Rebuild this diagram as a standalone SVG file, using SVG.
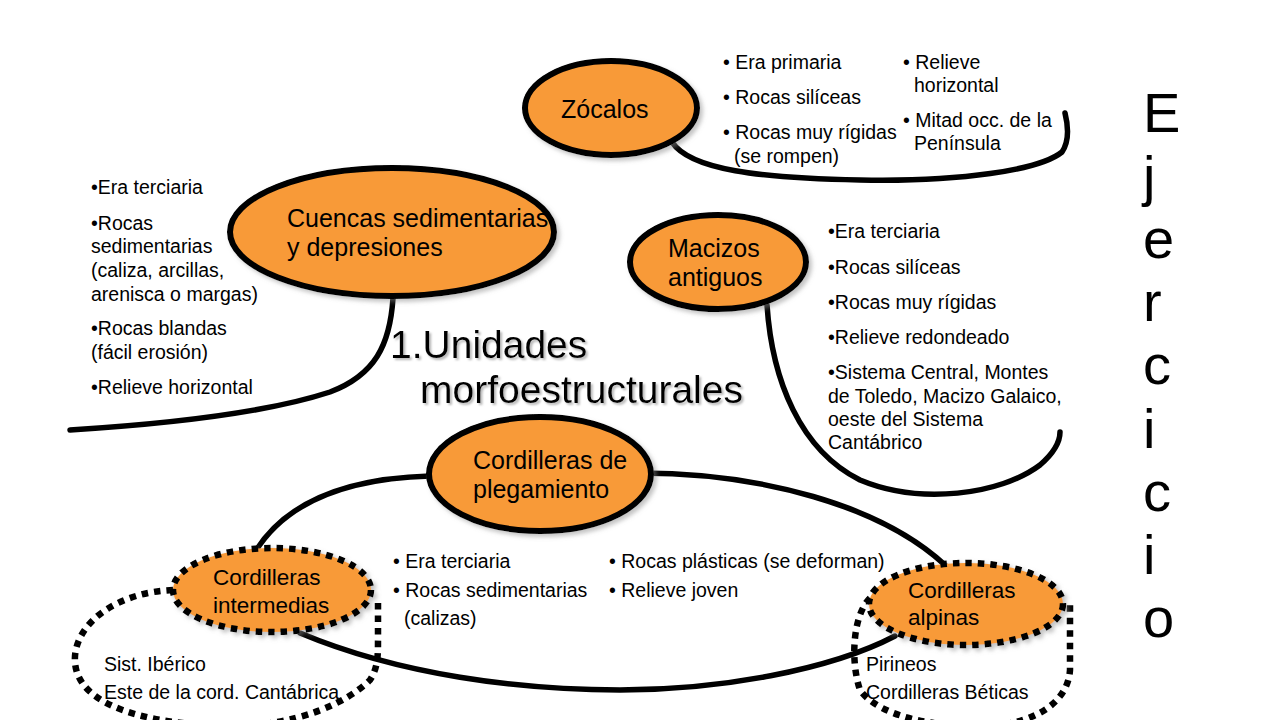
<svg xmlns="http://www.w3.org/2000/svg" width="1280" height="720" viewBox="0 0 1280 720">
<defs>
<filter id="sh" x="-10%" y="-10%" width="125%" height="130%">
<feDropShadow dx="3" dy="3" stdDeviation="2" flood-color="#888" flood-opacity="0.5"/>
</filter>
<filter id="tsh" x="-5%" y="-10%" width="110%" height="130%">
<feDropShadow dx="2" dy="2" stdDeviation="1" flood-color="#999" flood-opacity="0.7"/>
</filter>
</defs>
<style>
text{font-family:"Liberation Sans",Arial,sans-serif;fill:#000}
.node{fill:#F89A38;stroke:#000;stroke-width:6}
.dot{fill:#F89A38;stroke:#000;stroke-width:6.5;stroke-dasharray:6.5 6}
.con{fill:none;stroke:#000;stroke-width:5.5;stroke-linecap:round}
.dloop{fill:none;stroke:#000;stroke-width:6.5;stroke-dasharray:6.5 6}
.nt{font-size:25px}
.dt{font-size:22.5px}
.bt{font-size:19.5px}
.title{font-size:39px}
.ej{font-size:56px}
</style>
<rect width="1280" height="720" fill="#fff"/>
<g id="connectors">
<path class="con" d="M672,142 C690,170 760,178 860,180 C960,182 1040,170 1062,152 C1070,140 1068,125 1065,113"/>
<path class="con" d="M393,298 C390,345 375,375 330,392 C260,415 150,425 70,430"/>
<path class="con" d="M767,305 C772,380 800,450 860,480 C920,505 1000,495 1040,465 C1055,452 1060,440 1060,432"/>
<path class="con" d="M640,473 C760,473 880,505 945,565"/>
<path class="con" d="M430,476 C360,478 290,495 255,552"/>
<path class="con" d="M300,633 C400,675 520,690 620,690 C720,690 830,670 895,636"/>
<path class="dloop" d="M173,590 C120,592 78,620 75,656 C72,700 130,722 220,726 C300,728 350,700 370,680 C378,668 378,655 378,640 L378,597"/>
<path class="dloop" d="M870,598 C853,615 850,660 860,690 C880,718 940,728 990,726 C1040,722 1068,700 1070,670 L1070,605"/>
</g>
<g id="zocalos">
<ellipse class="node" filter="url(#sh)" cx="611" cy="108" rx="86" ry="47"/>
<text class="nt" x="561" y="118">Zócalos</text>
</g>
<g id="zocalos-list">
<text class="bt" x="723" y="69">• Era primaria</text>
<text class="bt" x="723" y="104">• Rocas silíceas</text>
<text class="bt" x="723" y="139">• Rocas muy rígidas</text>
<text class="bt" x="734" y="163">(se rompen)</text>
<text class="bt" x="903" y="69">• Relieve</text>
<text class="bt" x="914" y="92">horizontal</text>
<text class="bt" x="903" y="127">• Mitad occ. de la</text>
<text class="bt" x="914" y="150">Península</text>
</g>
<g id="cuencas">
<ellipse class="node" filter="url(#sh)" cx="392" cy="232" rx="162" ry="64"/>
<text class="nt" x="287" y="227">Cuencas sedimentarias</text>
<text class="nt" x="287" y="256">y depresiones</text>
</g>
<g id="cuencas-list">
<text class="bt" x="91" y="194">•Era terciaria</text>
<text class="bt" x="91" y="230">•Rocas</text>
<text class="bt" x="91" y="253">sedimentarias</text>
<text class="bt" x="91" y="277">(caliza, arcillas,</text>
<text class="bt" x="91" y="301">arenisca o margas)</text>
<text class="bt" x="91" y="335">•Rocas blandas</text>
<text class="bt" x="91" y="359">(fácil erosión)</text>
<text class="bt" x="91" y="394">•Relieve horizontal</text>
</g>
<g id="title" filter="url(#tsh)">
<text class="title" x="390" y="358">1.Unidades</text>
<text class="title" x="420" y="403">morfoestructurales</text>
</g>
<g id="macizos">
<ellipse class="node" filter="url(#sh)" cx="718" cy="262" rx="88" ry="47"/>
<text class="nt" x="668" y="257">Macizos</text>
<text class="nt" x="668" y="286">antiguos</text>
</g>
<g id="macizos-list">
<text class="bt" x="828" y="238">•Era terciaria</text>
<text class="bt" x="828" y="274">•Rocas silíceas</text>
<text class="bt" x="828" y="309">•Rocas muy rígidas</text>
<text class="bt" x="828" y="344">•Relieve redondeado</text>
<text class="bt" x="828" y="379">•Sistema Central, Montes</text>
<text class="bt" x="828" y="403">de Toledo, Macizo Galaico,</text>
<text class="bt" x="828" y="426">oeste del Sistema</text>
<text class="bt" x="828" y="449">Cantábrico</text>
</g>
<g id="plegamiento">
<ellipse class="node" filter="url(#sh)" cx="540" cy="474" rx="111" ry="57"/>
<text class="nt" x="473" y="469">Cordilleras de</text>
<text class="nt" x="473" y="498">plegamiento</text>
</g>
<g id="plegamiento-list">
<text class="bt" x="393" y="568">• Era terciaria</text>
<text class="bt" x="393" y="597">• Rocas sedimentarias</text>
<text class="bt" x="404" y="625">(calizas)</text>
<text class="bt" x="609" y="568">• Rocas plásticas (se deforman)</text>
<text class="bt" x="609" y="597">• Relieve joven</text>
</g>
<g id="intermedias">
<ellipse class="dot" filter="url(#sh)" cx="272" cy="590" rx="99" ry="42"/>
<text class="dt" x="213" y="585">Cordilleras</text>
<text class="dt" x="213" y="613">intermedias</text>
</g>
<g id="intermedias-list">
<text class="bt" x="104" y="671">Sist. Ibérico</text>
<text class="bt" x="104" y="699">Este de la cord. Cantábrica</text>
</g>
<g id="alpinas">
<ellipse class="dot" filter="url(#sh)" cx="966" cy="604" rx="97" ry="41"/>
<text class="dt" x="908" y="598">Cordilleras</text>
<text class="dt" x="908" y="625">alpinas</text>
</g>
<g id="alpinas-list">
<text class="bt" x="866" y="671">Pirineos</text>
<text class="bt" x="866" y="699">Cordilleras Béticas</text>
</g>
<g id="ejercicio">
<text class="ej" x="1143" y="132">E</text>
<text class="ej" x="1143" y="195">j</text>
<text class="ej" x="1143" y="258">e</text>
<text class="ej" x="1143" y="321">r</text>
<text class="ej" x="1143" y="384">c</text>
<text class="ej" x="1143" y="448">i</text>
<text class="ej" x="1143" y="511">c</text>
<text class="ej" x="1143" y="574">i</text>
<text class="ej" x="1143" y="637">o</text>
</g>
</svg>
